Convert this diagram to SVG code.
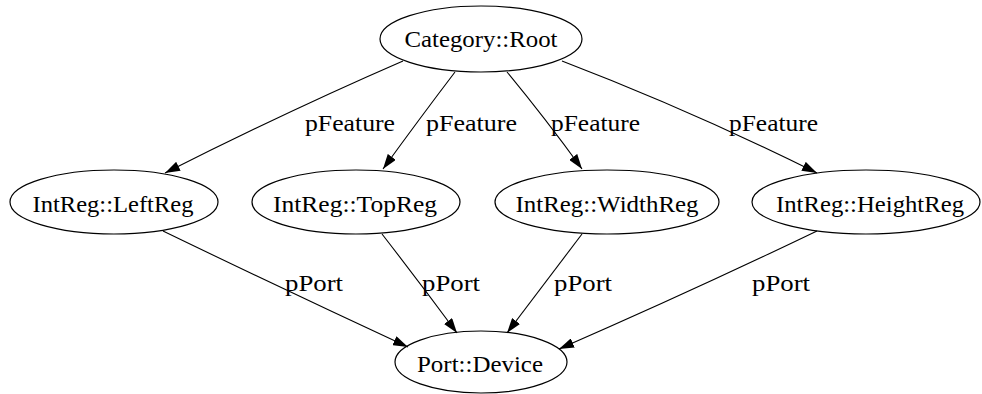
<svg xmlns="http://www.w3.org/2000/svg" width="982" height="394" viewBox="0 0 982 394">
<defs>
<style>
.node ellipse{fill:none;stroke:#000;stroke-width:1.2}
.node text{font-family:"Liberation Serif","Times New Roman",serif;font-size:23px;fill:#000;text-anchor:middle}
.lbl{font-family:"Liberation Serif","Times New Roman",serif;font-size:23px;fill:#000}
.edge{fill:none;stroke:#000;stroke-width:1.1;marker-end:url(#arr)}
</style>
<marker id="arr" markerUnits="userSpaceOnUse" markerWidth="15" markerHeight="10" refX="15" refY="5" orient="auto">
<path d="M0,0 L15,5 L0,10 z" fill="#000"/>
</marker>
</defs>
<rect width="982" height="394" fill="#fff"/>
<g id="connectors">
<path class="edge" d="M403,61 Q290,110 165,173"/>
<path class="edge" d="M455,72 Q420,118 383,169"/>
<path class="edge" d="M507,72 Q545,118 582,169"/>
<path class="edge" d="M562,61 Q690,110 817,173"/>
<path class="edge" d="M163,231 Q285,290 408,347"/>
<path class="edge" d="M382,234 Q420,283 457,333"/>
<path class="edge" d="M582,234 Q545,283 507,333"/>
<path class="edge" d="M817,231 Q690,292 559,349"/>
<text class="lbl" x="305" y="131" textLength="90" lengthAdjust="spacingAndGlyphs">pFeature</text>
<text class="lbl" x="426" y="131" textLength="91" lengthAdjust="spacingAndGlyphs">pFeature</text>
<text class="lbl" x="551" y="131" textLength="89" lengthAdjust="spacingAndGlyphs">pFeature</text>
<text class="lbl" x="729" y="131" textLength="89" lengthAdjust="spacingAndGlyphs">pFeature</text>
<text class="lbl" x="285" y="291" textLength="58" lengthAdjust="spacingAndGlyphs">pPort</text>
<text class="lbl" x="422" y="291" textLength="58" lengthAdjust="spacingAndGlyphs">pPort</text>
<text class="lbl" x="554" y="291" textLength="58" lengthAdjust="spacingAndGlyphs">pPort</text>
<text class="lbl" x="752" y="291" textLength="58" lengthAdjust="spacingAndGlyphs">pPort</text>
</g>
<g id="root" class="node"><ellipse cx="481" cy="39" rx="101" ry="33"/><text x="481" y="47" textLength="153" lengthAdjust="spacingAndGlyphs">Category::Root</text></g>
<g id="leftreg" class="node"><ellipse cx="114" cy="202" rx="104" ry="32"/><text x="113" y="212" textLength="161" lengthAdjust="spacingAndGlyphs">IntReg::LeftReg</text></g>
<g id="topreg" class="node"><ellipse cx="356" cy="202" rx="104" ry="32"/><text x="355" y="212" textLength="164" lengthAdjust="spacingAndGlyphs">IntReg::TopReg</text></g>
<g id="widthreg" class="node"><ellipse cx="607" cy="202" rx="112" ry="32"/><text x="607" y="212" textLength="183" lengthAdjust="spacingAndGlyphs">IntReg::WidthReg</text></g>
<g id="heightreg" class="node"><ellipse cx="866" cy="202" rx="114" ry="32"/><text x="870" y="212" textLength="188" lengthAdjust="spacingAndGlyphs">IntReg::HeightReg</text></g>
<g id="device" class="node"><ellipse cx="481" cy="362" rx="86" ry="31"/><text x="480" y="372" textLength="126" lengthAdjust="spacingAndGlyphs">Port::Device</text></g>
</svg>
